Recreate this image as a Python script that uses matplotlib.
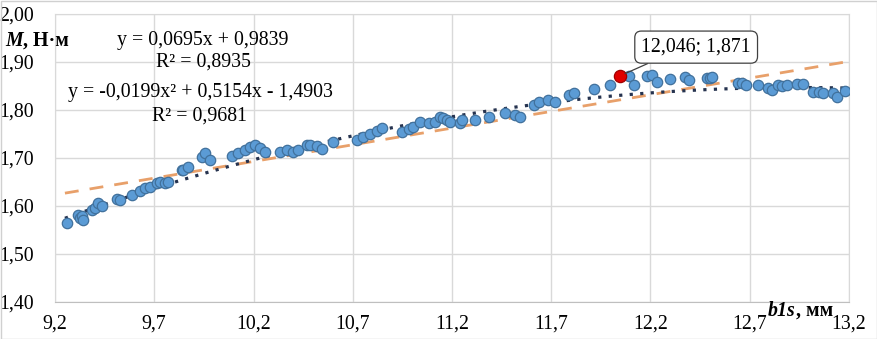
import matplotlib
matplotlib.use("Agg")
import matplotlib.pyplot as plt
import numpy as np
from matplotlib.ticker import FuncFormatter
from matplotlib.patches import Rectangle

# ---- data ----
x_vals = [9.259, 9.317, 9.326, 9.334, 9.343, 9.385, 9.402, 9.418, 9.435, 9.511,
          9.528, 9.587, 9.628, 9.654, 9.679, 9.713, 9.729, 9.754, 9.771, 9.838,
          9.847, 9.872, 9.939, 9.956, 9.981, 10.09, 10.124, 10.158, 10.183, 10.208,
          10.233, 10.258, 10.334, 10.368, 10.401, 10.426, 10.468, 10.485, 10.519, 10.544,
          10.603, 10.721, 10.754, 10.788, 10.821, 10.847, 10.947, 10.981, 11.006, 11.04,
          11.082, 11.115, 11.141, 11.157, 11.174, 11.191, 11.241, 11.25, 11.317, 11.384,
          11.468, 11.519, 11.544, 11.611, 11.636, 11.686, 11.72, 11.787, 11.813, 11.913,
          11.997, 12.09, 12.115, 12.182, 12.207, 12.232, 12.299, 12.375, 12.392, 12.484,
          12.50, 12.51, 12.64, 12.66, 12.68, 12.74, 12.79, 12.81, 12.84, 12.86,
          12.89, 12.94, 12.97, 13.02, 13.05, 13.07, 13.12, 13.14, 13.18]
y_vals = [1.564, 1.581, 1.574, 1.579, 1.571, 1.592, 1.595, 1.606, 1.599, 1.614,
          1.612, 1.623, 1.632, 1.637, 1.640, 1.647, 1.651, 1.647, 1.651, 1.675,
          1.675, 1.682, 1.703, 1.710, 1.696, 1.704, 1.710, 1.717, 1.722, 1.727,
          1.720, 1.713, 1.713, 1.717, 1.713, 1.717, 1.727, 1.727, 1.724, 1.718,
          1.734, 1.738, 1.744, 1.751, 1.757, 1.762, 1.755, 1.760, 1.764, 1.776,
          1.772, 1.776, 1.785, 1.783, 1.779, 1.776, 1.772, 1.779, 1.779, 1.786,
          1.794, 1.790, 1.786, 1.810, 1.817, 1.821, 1.817, 1.831, 1.835, 1.843,
          1.852, 1.871, 1.852, 1.871, 1.873, 1.859, 1.865, 1.869, 1.862, 1.866,
          1.867, 1.869, 1.856, 1.856, 1.853, 1.852, 1.846, 1.842, 1.852, 1.850,
          1.852, 1.854, 1.854, 1.837, 1.837, 1.835, 1.835, 1.827, 1.840]
peak_x = 12.046
peak_y = 1.871
lin_coef = [0.0695, 0.9839]
poly_coef = [-0.0199, 0.5154, -1.4903]
x_ticks = [9.2, 9.7, 10.2, 10.7, 11.2, 11.7, 12.2, 12.7, 13.2]
y_ticks = [1.40, 1.50, 1.60, 1.70, 1.80, 1.90, 2.00]

plt.rcParams['font.family'] = ['Liberation Serif', 'DejaVu Serif']
FS = 14.3

fig = plt.figure(figsize=(8.77, 3.39), dpi=100)
ax = fig.add_axes([55/877, 1-302/339, (849-55)/877, (302-14)/339])

grid_c = '#D9D9D9'
ax.set_xlim(9.2, 13.2)
ax.set_ylim(1.4, 2.0)
ax.set_xticks(x_ticks)
ax.set_yticks(y_ticks)
ax.xaxis.set_major_formatter(FuncFormatter(lambda v, p: f"{v:.1f}".replace('.', ',')))
ax.yaxis.set_major_formatter(FuncFormatter(lambda v, p: f"{v:.2f}".replace('.', ',')))
ax.grid(True, color=grid_c, linewidth=1.0)
ax.set_axisbelow(True)
for s in ['left', 'top', 'right']:
    ax.spines[s].set_color(grid_c)
ax.spines['bottom'].set_color('#BFBFBF')
ax.tick_params(axis='both', length=0, labelsize=FS)
ax.tick_params(axis='y', pad=15)
ax.tick_params(axis='x', pad=9)

# trendlines
xt = np.linspace(9.25, 13.2, 200)
ax.plot(xt, np.polyval(lin_coef, xt), linestyle=(0, (5, 4)), color='#E8A06A', linewidth=2.0, zorder=2)
ax.plot(xt, np.polyval(poly_coef, xt), linestyle=(0, (1, 2.3)), color='#26334F', linewidth=2.3, zorder=2)

ax.scatter(x_vals, y_vals, s=56, facecolor='#5B9BD5', edgecolor='#41719C', linewidth=0.9, zorder=3)
ax.scatter([peak_x], [peak_y], s=78, facecolor='#E00000', edgecolor='#A00000', linewidth=0.9, zorder=4)

ax.annotate("12,046; 1,871", xy=(peak_x, peak_y), xytext=(12.43, 1.931),
            ha='center', va='center', fontsize=FS,
            bbox=dict(boxstyle='round,pad=0.33', fc='white', ec='#404040', lw=0.9),
            arrowprops=dict(arrowstyle='-', color='#404040', lw=0.9, relpos=(0.2, 0.0),
                            shrinkA=0, shrinkB=4), zorder=5)

# equations
fig.text(203/877, 1-40/339, "y = 0,0695x + 0,9839", ha='center', va='center', fontsize=FS)
fig.text(203/877, 1-62/339, "R² = 0,8935", ha='center', va='center', fontsize=FS)
fig.text(200/877, 1-93/339, "y = -0,0199x² + 0,5154x - 1,4903", ha='center', va='center', fontsize=FS)
fig.text(200/877, 1-116/339, "R² = 0,9681", ha='center', va='center', fontsize=FS)

# axis labels
t1 = fig.text(5/877, 1-46/339, "M", fontsize=FS, fontweight='bold', fontstyle='italic', va='baseline')
ax.annotate(", Н·м", xy=(1, 0), xycoords=t1, fontsize=FS, fontweight='bold', va='bottom', ha='left',
            annotation_clip=False)
t2 = fig.text(768/877, 1-316/339, "b1s", fontsize=FS, fontweight='bold', fontstyle='italic', va='baseline')
ax.annotate(", мм", xy=(1, 0), xycoords=t2, fontsize=FS, fontweight='bold', va='bottom', ha='left',
            annotation_clip=False)

fig.patches.append(Rectangle((0.5/877, 0.5/339), 1-1/877, 1-1/339, transform=fig.transFigure,
                             fill=False, edgecolor='#D0D0D0', linewidth=1.0))

fig.savefig("out.png", dpi=100)
